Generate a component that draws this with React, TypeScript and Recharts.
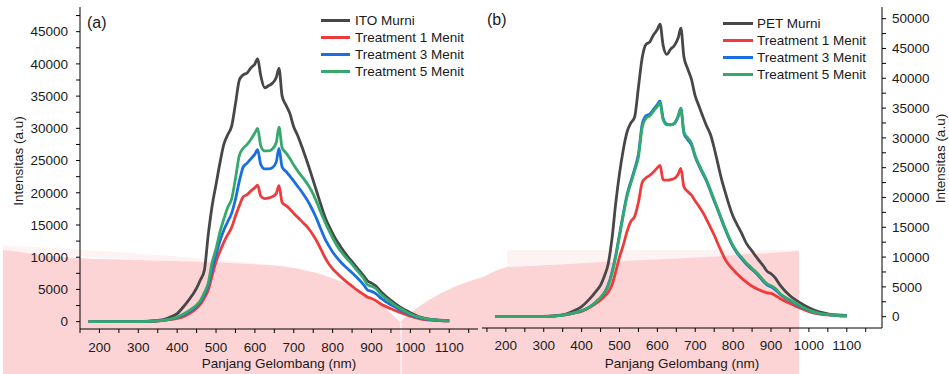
import React from "react";
import { LineChart, Line, XAxis, YAxis, Legend } from "recharts";

// wavelength (nm) sample points shared by every spectrum
const wavelengths = [
  172, 200, 250, 300, 350, 380, 400, 420, 440, 450, 460, 470, 480, 490, 500, 510, 520, 530, 540, 550,
  560, 570, 580, 590, 600, 607, 615, 625, 635, 645, 655, 662, 670, 680, 690, 700, 710, 720, 730, 740,
  750, 760, 770, 780, 790, 800, 810, 820, 835, 850, 865, 880, 890, 900, 910, 925, 950, 975, 1000, 1025,
  1050, 1075, 1100,
];

// panel (a) ITO
const itoMurni = [
  0, 0, 0, 20, 180, 650, 1250, 2600, 4200, 5200, 6500, 8000, 13500, 18000, 21300, 24600, 27500, 29000, 30300, 33800,
  37500, 38300, 38600, 39400, 40000, 40800, 38200, 36300, 36600, 37000, 37900, 39300, 35000, 33600, 32300, 30200, 28900, 27300, 25600, 23800,
  21900, 20000, 18100, 16300, 14900, 13700, 12600, 11700, 10400, 9300, 8200, 7100, 6300, 6000, 5600, 4600, 3300, 2200, 1400, 700,
  380, 220, 150,
];
const itoT1 = [
  0, 0, 0, 10, 100, 300, 500, 900, 1600, 2100, 2700, 3700, 4900, 7200, 9300, 10900, 12300, 13500, 14600, 16400,
  18000, 19400, 19700, 20300, 20800, 21200, 19500, 19100, 19200, 19400, 19900, 21100, 18500, 18000, 17500, 16800, 16200, 15600, 15000, 14300,
  13400, 12400, 11200, 10000, 9000, 8200, 7600, 7000, 6200, 5500, 4800, 4200, 3800, 3600, 3300, 2700, 2000, 1400, 850, 450,
  250, 150, 100,
];
const itoT3 = [
  0, 0, 0, 10, 120, 350, 650, 1150, 1900, 2400, 3100, 4200, 5600, 8200, 10400, 12500, 14200, 15500, 16800, 19000,
  21800, 24000, 24600, 25300, 26000, 26700, 24400, 23700, 23700, 23900, 24800, 26900, 24000, 23300, 22600, 21800, 21000, 20200, 19300, 18300,
  17100, 15800, 14300, 12900, 11800, 10800, 10000, 9300, 8400, 7600, 6700, 5700, 4900, 4700, 4400, 3600, 2600, 1800, 1050, 550,
  300, 180, 130,
];
const itoT5 = [
  0, 0, 0, 10, 130, 370, 700, 1300, 2100, 2600, 3300, 4500, 6000, 9200, 11300, 13900, 15900, 17700, 19000, 22200,
  25800, 26900, 27500, 28300, 29300, 30000, 27300, 26500, 26500, 26800, 27800, 30200, 27000, 26200, 25300, 24300, 23400, 22600, 21800, 20900,
  19800, 18400, 16900, 15500, 14200, 13000, 11900, 11000, 9900, 8900, 7800, 6700, 5700, 5500, 5200, 4200, 3000, 2000, 1200, 650,
  350, 200, 150,
];

// panel (b) PET
const petMurni = [
  0, 0, 0, 30, 300, 1000, 1700, 2900, 4400, 5300, 6800, 8800, 13000, 19000, 24000, 28000, 31000, 32500, 33500, 38500,
  43500, 45700, 46100, 47300, 48200, 49100, 45600, 44000, 44900, 45500, 46800, 48400, 43600, 41600, 39800, 37000, 35300, 33600, 32000, 30600,
  28300, 25600, 22900, 20700, 18600, 16800, 15500, 14300, 12300, 11000, 9700, 8500, 7600, 7200, 6600, 5200, 3500, 2400, 1500, 850,
  480, 280, 200,
];
const petT1 = [
  0, 0, 0, 20, 250, 600, 900, 1500, 2300, 2800, 3400, 4100, 5300, 7500, 10000, 12000, 14300, 16000, 16800, 19200,
  22500, 23300, 23700, 24300, 25000, 25400, 23000, 22900, 23000, 23200, 23900, 24900, 21800, 21000, 20400, 19400, 18500, 17500, 16300, 15000,
  13700, 12200, 10800, 9500, 8600, 7900, 7200, 6600, 5800, 5100, 4600, 4200, 4000, 3900, 3600, 3000, 2200, 1500, 850, 480,
  300, 180, 130,
];
const petT3 = [
  0, 0, 0, 20, 250, 650, 1000, 1600, 2600, 3200, 4000, 5300, 7400, 10300, 13800, 17300, 20500, 22700, 24800, 27300,
  32300, 33700, 34000, 34800, 35600, 36200, 33300, 32300, 32200, 32400, 33600, 34900, 30800, 29700, 28800, 26800, 25300, 24000, 22700, 21100,
  19400, 17800, 16100, 14500, 13000, 11700, 10700, 9900, 8800, 7900, 7000, 5900, 5300, 5000, 4600, 3700, 2700, 1800, 1050, 580,
  330, 190, 140,
];
const petT5 = [
  0, 0, 0, 20, 250, 650, 1000, 1600, 2600, 3200, 4000, 5200, 7200, 10000, 13500, 17000, 20200, 22400, 24500, 26800,
  31800, 33300, 33700, 34500, 35300, 35900, 33100, 32200, 32200, 32500, 33700, 35000, 31000, 30000, 29100, 27000, 25500, 24200, 22900, 21300,
  19600, 18000, 16300, 14700, 13200, 11900, 10900, 10100, 9000, 8100, 7200, 6100, 5500, 5200, 4800, 3800, 2800, 1900, 1100, 600,
  350, 200, 150,
];

const xTicks = [150, 200, 250, 300, 350, 400, 450, 500, 550, 600, 650, 700, 750, 800, 850, 900, 950, 1000, 1050, 1100, 1150];
const yTicksA = [0, 2500, 5000, 7500, 10000, 12500, 15000, 17500, 20000, 22500, 25000, 27500, 30000, 32500, 35000, 37500, 40000, 42500, 45000, 47500];
const yTicksB = [0, 2500, 5000, 7500, 10000, 12500, 15000, 17500, 20000, 22500, 25000, 27500, 30000, 32500, 35000, 37500, 40000, 42500, 45000, 47500, 50000];

const colors = { murni: "#474747", t1: "#ee3b3b", t3: "#1a6fe0", t5: "#34a96b" };
const FONT = "'Liberation Sans', Arial, sans-serif";
const TXT = "#1a1a1a";

const rowsA = wavelengths.map((wl, i) => ({ wl, murni: itoMurni[i], t1: itoT1[i], t3: itoT3[i], t5: itoT5[i] }));
const rowsB = wavelengths.map((wl, i) => ({ wl, murni: petMurni[i], t1: petT1[i], t3: petT3[i], t5: petT5[i] }));

const xFmt = (v: number) => (v % 100 === 0 ? String(v) : "");
const yFmt = (v: number) => (v % 5000 === 0 ? String(v) : "");

function LegendBox({ payload, rowH, lineW, gap }: any) {
  return (
    <div style={{ fontFamily: FONT }}>
      {(payload || []).map((p: any) => (
        <div key={p.value} style={{ display: "flex", alignItems: "center", height: rowH }}>
          <span style={{ display: "inline-block", width: lineW, height: 3, background: p.color, marginRight: gap }} />
          <span style={{ fontSize: 13.5, color: TXT, whiteSpace: "nowrap" }}>{p.value}</span>
        </div>
      ))}
    </div>
  );
}

function series(first: string) {
  return [
    <Line key="m" type="monotone" dataKey="murni" name={first} stroke={colors.murni} strokeWidth={2.8} dot={false} isAnimationActive={false} />,
    <Line key="1" type="monotone" dataKey="t1" name="Treatment 1 Menit" stroke={colors.t1} strokeWidth={2.8} dot={false} isAnimationActive={false} />,
    <Line key="3" type="monotone" dataKey="t3" name="Treatment 3 Menit" stroke={colors.t3} strokeWidth={2.8} dot={false} isAnimationActive={false} />,
    <Line key="5" type="monotone" dataKey="t5" name="Treatment 5 Menit" stroke={colors.t5} strokeWidth={2.8} dot={false} isAnimationActive={false} />,
  ];
}

const axisLine = { stroke: "#000", strokeWidth: 1 };
const tickStyle = { fontSize: 13.5, fill: TXT };

export default function App() {
  return (
    <div style={{ position: "absolute", left: 0, top: 0, width: 949, height: 374, background: "#fff", fontFamily: FONT, overflow: "hidden" }}>
      {/* pink backdrop present in the reference picture */}
      <svg width={949} height={374} style={{ position: "absolute", left: 0, top: 0 }}>
        <path d="M3,245 C80,250 180,255 280,266 C180,261 80,258 3,250 Z" fill="#fef2f2" />
        <path d="M507,250 L799,250 L799,252 C700,258 600,262 507,267 Z" fill="#fef3f3" />
        <path
          d="M3,250 C40,254 60,258 100,259 C170,261 230,262 280,266 C330,272 370,290 400,322 C420,303 450,286 480,278 C490,274 498,269 507,267 C600,262 700,258 799,251 L799,374 L3,374 Z"
          fill="#fcd4d6"
        />
        <line x1={401} y1={322} x2={401} y2={374} stroke="#fff" strokeOpacity={0.5} strokeWidth={2} />
      </svg>

      <div style={{ position: "absolute", left: 0, top: 0 }}>
        <LineChart width={480} height={374} data={rowsA} margin={{ top: 7, right: 2, bottom: 0, left: 10 }}>
          <XAxis
            xAxisId="top"
            orientation="top"
            type="number"
            dataKey="wl"
            domain={[150, 1174]}
            height={0}
            tick={false}
            tickLine={false}
            axisLine={axisLine}
          />
          <YAxis yAxisId="right" orientation="right" type="number" domain={[-1140, 48830]} width={0} tick={false} tickLine={false} axisLine={axisLine} />
          <XAxis
            type="number"
            dataKey="wl"
            domain={[150, 1174]}
            ticks={xTicks}
            interval={0}
            tickFormatter={xFmt}
            tick={tickStyle}
            tickSize={4}
            tickMargin={9}
            tickLine={axisLine}
            axisLine={axisLine}
            height={45}
            label={{ value: "Panjang Gelombang (nm)", position: "insideBottom", offset: 6, fontSize: 13.5, fill: TXT }}
          />
          <YAxis
            type="number"
            domain={[-1140, 48830]}
            ticks={yTicksA}
            interval={0}
            tickFormatter={yFmt}
            tick={tickStyle}
            tickSize={4}
            tickMargin={8}
            tickLine={axisLine}
            axisLine={axisLine}
            width={70}
            label={{ value: "Intensitas (a.u)", angle: -90, position: "insideLeft", offset: 8, dy: -7, fontSize: 13.5, fill: TXT, style: { textAnchor: "middle" } }}
          />
          <Legend
            layout="vertical"
            align="center"
            verticalAlign="middle"
            wrapperStyle={{ left: 321, top: 12.3, width: "auto" }}
            content={(props: any) => <LegendBox {...props} rowH={16.8} lineW={29} gap={5} />}
          />
          {series("ITO Murni")}
        </LineChart>
      </div>

      <div style={{ position: "absolute", left: 482, top: 0 }}>
        <LineChart width={467} height={374} data={rowsB} margin={{ top: 7, right: 0, bottom: 0, left: 0 }}>
          <XAxis
            xAxisId="top"
            orientation="top"
            type="number"
            dataKey="wl"
            domain={[137, 1193]}
            height={0}
            tick={false}
            tickLine={false}
            axisLine={axisLine}
          />
          <YAxis yAxisId="left" orientation="left" type="number" domain={[-1900, 51960]} width={0} tick={false} tickLine={false} axisLine={axisLine} />
          <XAxis
            type="number"
            dataKey="wl"
            domain={[137, 1193]}
            ticks={xTicks}
            interval={0}
            tickFormatter={xFmt}
            tick={tickStyle}
            tickSize={4}
            tickMargin={8}
            tickLine={axisLine}
            axisLine={axisLine}
            height={46}
            label={{ value: "Panjang Gelombang (nm)", position: "insideBottom", offset: 6, fontSize: 13.5, fill: TXT }}
          />
          <YAxis
            orientation="right"
            type="number"
            domain={[-1900, 51960]}
            ticks={yTicksB}
            interval={0}
            tickFormatter={yFmt}
            tick={tickStyle}
            tickSize={4}
            tickMargin={6}
            tickLine={axisLine}
            axisLine={axisLine}
            width={67}
            label={{ value: "Intensitas (a.u)", angle: -90, position: "insideRight", offset: 9, dy: -9, fontSize: 13.5, fill: TXT, style: { textAnchor: "middle" } }}
          />
          <Legend
            layout="vertical"
            align="center"
            verticalAlign="middle"
            wrapperStyle={{ left: 241, top: 14.9, width: "auto" }}
            content={(props: any) => <LegendBox {...props} rowH={16.9} lineW={30} gap={4} />}
          />
          {series("PET Murni")}
        </LineChart>
      </div>

      <div style={{ position: "absolute", left: 87, top: 15, fontSize: 16, lineHeight: 1, color: TXT }}>(a)</div>
      <div style={{ position: "absolute", left: 487, top: 11.5, fontSize: 16, lineHeight: 1, color: TXT }}>(b)</div>
    </div>
  );
}
